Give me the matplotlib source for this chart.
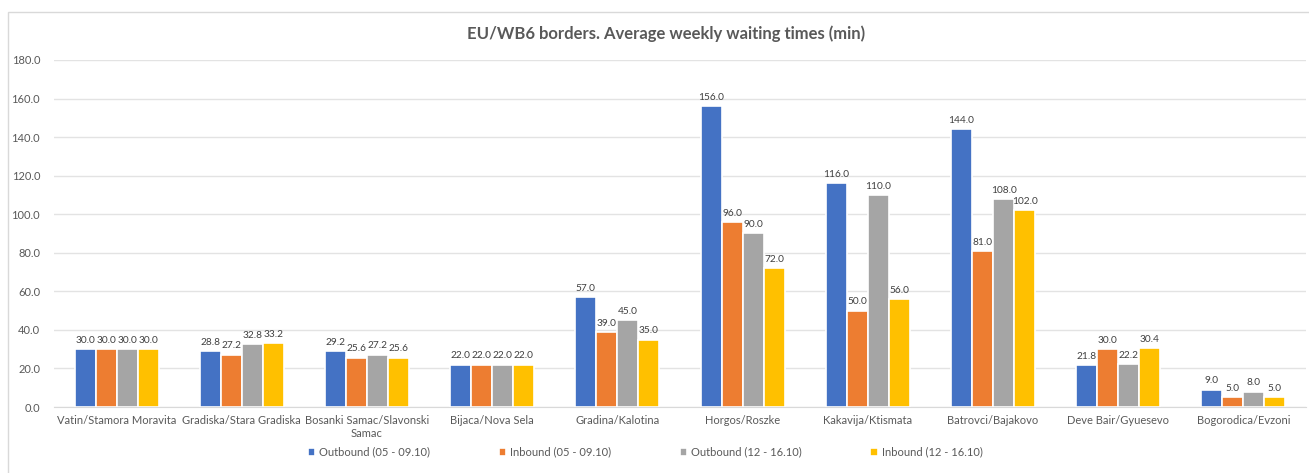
import numpy as np
import matplotlib.pyplot as plt
from matplotlib.patches import Rectangle

crossings = ['Vatin/Stamora Moravita', 'Gradiska/Stara Gradiska',
             'Bosanki Samac/Slavonski\nSamac', 'Bijaca/Nova Sela',
             'Gradina/Kalotina', 'Horgos/Roszke', 'Kakavija/Ktismata',
             'Batrovci/Bajakovo', 'Deve Bair/Gyuesevo', 'Bogorodica/Evzoni']

out_w1 = [30.0, 28.8, 29.2, 22.0, 57.0, 156.0, 116.0, 144.0, 21.8, 9.0]
in_w1 = [30.0, 27.2, 25.6, 22.0, 39.0, 96.0, 50.0, 81.0, 30.0, 5.0]
out_w2 = [30.0, 32.8, 27.2, 22.0, 45.0, 90.0, 110.0, 108.0, 22.2, 8.0]
in_w2 = [30.0, 33.2, 25.6, 22.0, 35.0, 72.0, 56.0, 102.0, 30.4, 5.0]

series_names = ['Outbound (05 - 09.10)', 'Inbound (05 - 09.10)',
                'Outbound (12 - 16.10)', 'Inbound (12 - 16.10)']
colors = ['#4472C4', '#ED7D31', '#A5A5A5', '#FFC000']

plt.rcParams['font.family'] = ['Lato', 'DejaVu Sans']
txt = '#595959'

fig = plt.figure(figsize=(13.09, 4.73), dpi=100)
fig.patches.append(Rectangle((8 / 1309, -0.1), 1.2, 1.1 - 12 / 473,
                             transform=fig.transFigure, fill=False,
                             edgecolor='#D9D9D9', linewidth=1))
ax = fig.add_axes([54 / 1309, 1 - 407 / 473, 1252 / 1309, 347 / 473])

x = np.arange(len(crossings))
slot = 0.168
for i, (vals, name, c) in enumerate(zip([out_w1, in_w1, out_w2, in_w2], series_names, colors)):
    pos = x + (i - 1.5) * slot
    bars = ax.bar(pos, vals, width=slot, color=c, edgecolor='white', linewidth=1.2, label=name)
    ax.bar_label(bars, labels=['%.1f' % v for v in vals], padding=3, fontsize=7.3, color='#404040')

ax.set_xlim(-0.5, len(crossings) - 0.5)
ax.set_ylim(0, 180)
ax.set_yticks(np.arange(0, 181, 20))
ax.set_yticklabels(['%.1f' % v for v in np.arange(0, 181, 20)])
ax.set_xticks(x)
ax.set_xticklabels(crossings, fontsize=8, color=txt)
ax.tick_params(axis='y', labelsize=8, labelcolor=txt, length=0, pad=10)
ax.tick_params(axis='x', length=0, pad=6)
ax.grid(axis='y', color='#E3E3E3', linewidth=1)
ax.set_axisbelow(True)
for s in ['top', 'right', 'left']:
    ax.spines[s].set_visible(False)
ax.spines['bottom'].set_color('#D9D9D9')

fig.text(666 / 1309, 1 - 34 / 473, 'EU/WB6 borders. Average weekly waiting times (min)',
         ha='center', va='center', fontsize=12, fontweight='bold', color=txt)

fig.legend(loc='center', bbox_to_anchor=(645 / 1309, 1 - 452 / 473), ncol=4, frameon=False,
           fontsize=8, handlelength=0.7, handleheight=0.7, handletextpad=0.3,
           columnspacing=6.2, labelcolor=txt)

fig.savefig('out.png', dpi=100)
